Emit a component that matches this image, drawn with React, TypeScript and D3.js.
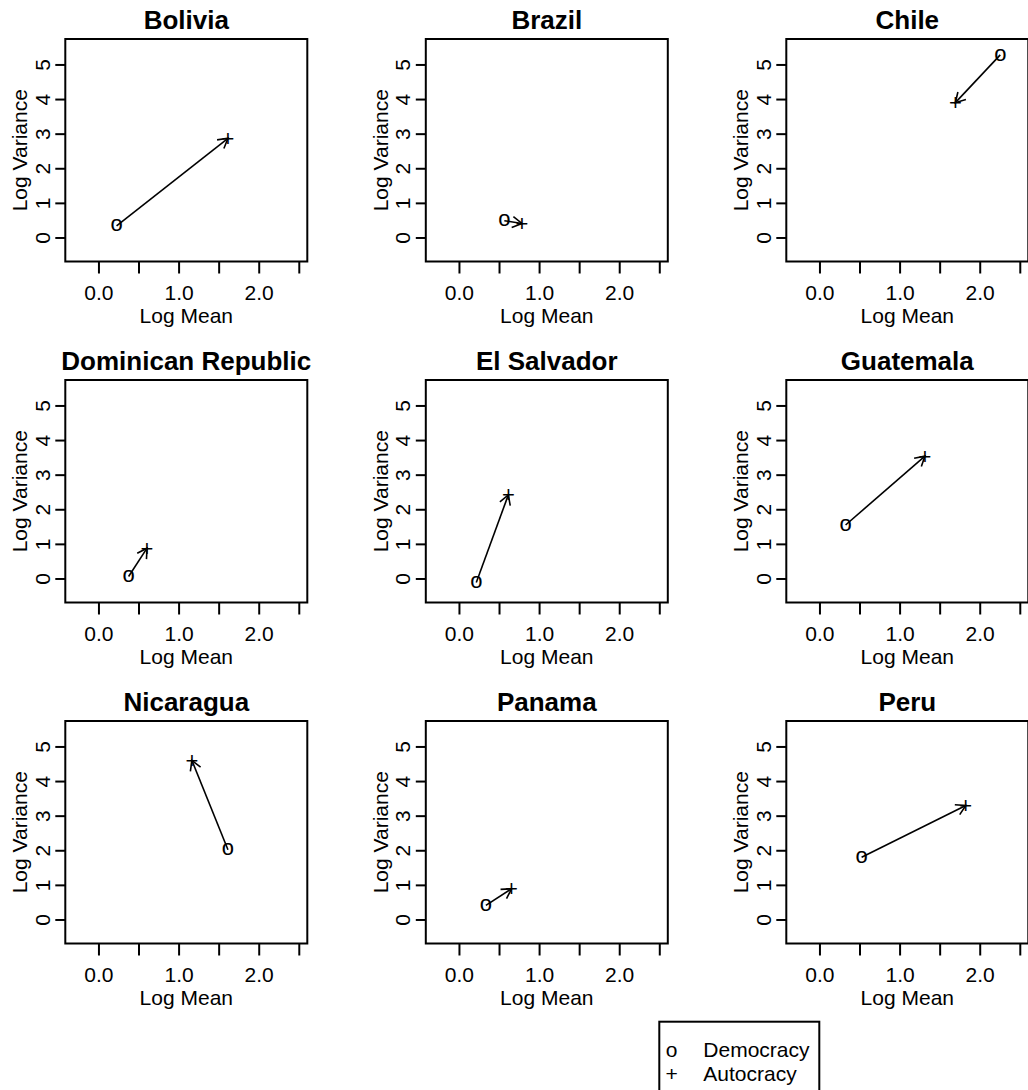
import React from "react";
import * as d3 from "d3";

const countries = ["Bolivia", "Brazil", "Chile", "Dominican Republic", "El Salvador", "Guatemala", "Nicaragua", "Panama", "Peru"];
const demMean = [0.22, 0.56, 2.25, 0.37, 0.21, 0.32, 1.61, 0.33, 0.52];
const demVar = [0.35, 0.5, 5.29, 0.07, -0.1, 1.56, 2.03, 0.42, 1.81];
const autMean = [1.61, 0.78, 1.69, 0.6, 0.61, 1.31, 1.16, 0.65, 1.82];
const autVar = [2.88, 0.42, 3.91, 0.89, 2.43, 3.55, 4.61, 0.9, 3.31];
const xTicks = [0, 0.5, 1, 1.5, 2, 2.5];
const xTickLabels = [0, 1, 2];
const yTicks = [0, 1, 2, 3, 4, 5];
const legendLabels = ["Democracy", "Autocracy"];
const legendSymbols = ["o", "+"];

const W = 1028;
const H = 1090;
const FONT = "'Liberation Sans', Arial, Helvetica, sans-serif";
const FS = 21;
const BOX_W = 242;
const BOX_H = 222.5;
const COL_X = [65.3, 425.8, 786.3];
const ROW_Y = [39, 380, 721];
const SW = 1.6;
const BW = 2;

function Panel({ i }: { i: number }) {
  const col = i % 3;
  const row = Math.floor(i / 3);
  const left = COL_X[col];
  const top = ROW_Y[row];
  const x = d3.scaleLinear().domain([-0.42, 2.6]).range([left, left + BOX_W]);
  const y = d3.scaleLinear().domain([-0.68, 5.75]).range([top + BOX_H, top]);
  const bottom = top + BOX_H;

  const x0 = x(demMean[i]);
  const y0 = y(demVar[i]);
  const x1 = x(autMean[i]);
  const y1 = y(autVar[i]);
  const ang = Math.atan2(y1 - y0, x1 - x0);
  const L = 11;
  const a = Math.PI / 6;
  const b1 = [x1 - L * Math.cos(ang - a), y1 - L * Math.sin(ang - a)];
  const b2 = [x1 - L * Math.cos(ang + a), y1 - L * Math.sin(ang + a)];
  const line = d3.line();

  return (
    <g>
      <text x={left + BOX_W / 2} y={top - 10} textAnchor="middle" fontFamily={FONT} fontWeight="bold" fontSize={26}>
        {countries[i]}
      </text>
      <rect x={left} y={top} width={BOX_W} height={BOX_H} fill="none" stroke="#000" strokeWidth={BW} />
      {xTicks.map((t) => (
        <line key={"xt" + t} x1={x(t)} x2={x(t)} y1={bottom} y2={bottom + 12} stroke="#000" strokeWidth={BW} />
      ))}
      {xTickLabels.map((t) => (
        <text key={"xl" + t} x={x(t)} y={bottom + 38.5} textAnchor="middle" fontFamily={FONT} fontSize={FS}>
          {d3.format(".1f")(t)}
        </text>
      ))}
      <text x={left + BOX_W / 2} y={bottom + 61} textAnchor="middle" fontFamily={FONT} fontSize={FS}>
        Log Mean
      </text>
      {yTicks.map((t) => (
        <line key={"yt" + t} x1={left - 10} x2={left} y1={y(t)} y2={y(t)} stroke="#000" strokeWidth={BW} />
      ))}
      {yTicks.map((t) => (
        <text
          key={"yl" + t}
          transform={`translate(${left - 15.5},${y(t)}) rotate(-90)`}
          textAnchor="middle"
          fontFamily={FONT}
          fontSize={FS}
        >
          {String(t)}
        </text>
      ))}
      <text
        transform={`translate(${left - 38},${top + BOX_H / 2}) rotate(-90)`}
        textAnchor="middle"
        fontFamily={FONT}
        fontSize={FS}
      >
        Log Variance
      </text>
      <path d={line([[x0, y0], [x1, y1]]) || ""} stroke="#000" strokeWidth={SW} fill="none" />
      <path d={line([b1 as [number, number], [x1, y1], b2 as [number, number]]) || ""} stroke="#000" strokeWidth={SW} fill="none" />
      <text x={x0} y={y0 + 5.6} textAnchor="middle" fontFamily={FONT} fontSize={22}>
        {legendSymbols[0]}
      </text>
      <text x={x1} y={y1 + 7.4} textAnchor="middle" fontFamily={FONT} fontSize={22}>
        {legendSymbols[1]}
      </text>
    </g>
  );
}

export default function App() {
  const legX = 659.3;
  const legY = 1021.7;
  return (
    <svg width={W} height={H} style={{ position: "absolute", left: 0, top: 0, background: "#fff" }}>
      <rect x={0} y={0} width={W} height={H} fill="#fff" />
      {countries.map((c, i) => (
        <Panel key={c} i={i} />
      ))}
      <rect x={legX} y={legY} width={160} height={90} fill="none" stroke="#000" strokeWidth={BW} />
      {legendLabels.map((lab, k) => (
        <g key={lab}>
          <text x={legX + 12.4} y={legY + 35 + k * 24} textAnchor="middle" fontFamily={FONT} fontSize={FS}>
            {legendSymbols[k]}
          </text>
          <text x={legX + 44} y={legY + 35 + k * 24} fontFamily={FONT} fontSize={FS}>
            {lab}
          </text>
        </g>
      ))}
    </svg>
  );
}
